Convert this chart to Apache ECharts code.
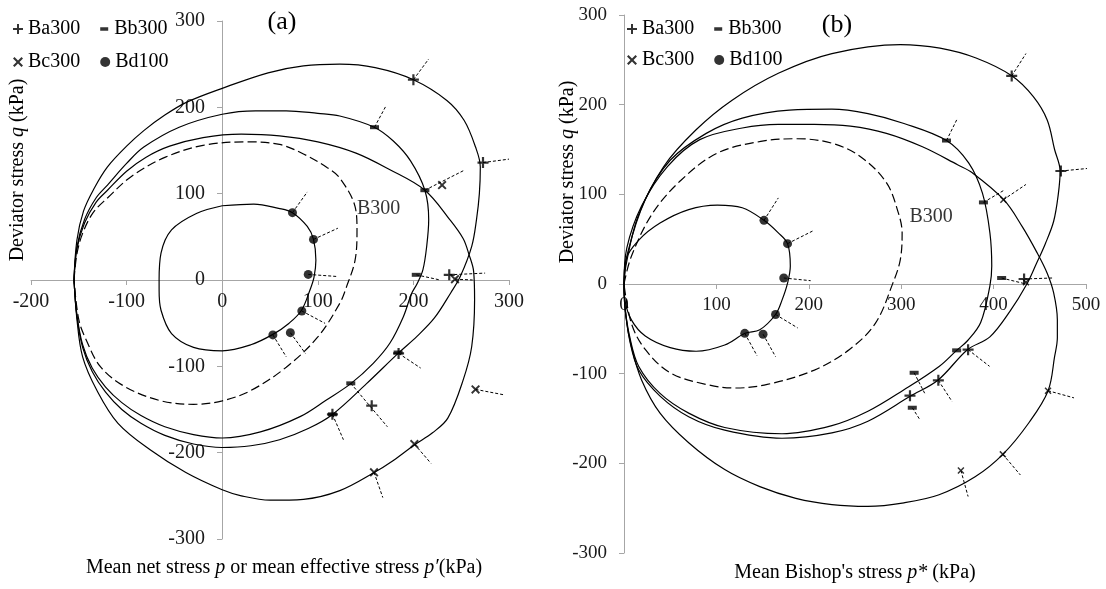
<!DOCTYPE html>
<html><head><meta charset="utf-8">
<script src="https://cdn.jsdelivr.net/npm/echarts/dist/echarts.min.js"></script>
<style>html,body{margin:0;padding:0;background:#fff}#c{width:1106px;height:589px}</style>
</head><body><div id="c"></div>
<script>
// ---------- Panel (a): p or p' ----------
const aXTicks = [-200, 300, 100];
const aYTicks = [-300, 300, 100];
const aBa300Curve = [[-155,0],[-152,46],[-145,80],[-134,106],[-120,131],[-100,155],[-82,173],[-60,191],[-37,206],[0,222],[48,240],[85,248],[123,250],[160,246],[200,232],[235,208],[253,185],[265,154],[270,131],[269,100],[266,70],[261,39],[249,4],[239,-15],[222,-44],[204,-65],[184,-85],[151,-120],[115,-156],[90,-172],[60,-185],[30,-192],[0,-194],[-30,-190],[-60,-180],[-85,-166],[-105,-150],[-122,-130],[-136,-106],[-146,-78],[-152,-42],[-155,0]];
const aBb300Curve = [[-155,0],[-152,38],[-144,70],[-132,95],[-120,110],[-100,135],[-82,154],[-45,177],[0,192],[35,196],[67,196],[100,193],[123,190],[159,177],[179,161],[197,138],[212,104],[216,70],[214,40],[210,12],[204,-4],[198,-16],[189.5,-42.5],[175.5,-73],[158,-96.5],[134.5,-120],[109,-139],[82,-158],[40,-176],[0,-183],[-30,-179],[-60,-170],[-85,-157],[-105,-142],[-122,-124],[-136,-102],[-146,-75],[-152,-40],[-155,0]];
const aBc300Curve = [[-155,0],[-152,36],[-144,66],[-132,90],[-120,104],[-100,126],[-80,142],[-55,155],[-20,165],[20,169],[60,167],[100,160],[140,147],[175,128],[212,104],[238,70],[252,48],[258,30],[263,10],[264,-23],[261,-77],[252,-116],[236,-160],[220,-177],[201,-191],[179,-209],[159,-223],[123,-244],[85,-254],[50,-255],[20,-250],[0,-243],[-38,-223],[-75,-197],[-109,-166],[-131,-128],[-146,-89],[-152,-45],[-155,0]];
const aB300Curve = [[-155,0],[-152,30],[-146,54],[-135,78],[-120,95],[-95,120],[-60,142],[-20,156],[26,160],[60,157],[85,146],[110,130],[123,118],[139,85],[141,58],[139,23],[130,-8],[123,-27],[100,-66],[67,-101],[30,-128],[0,-140],[-30,-144],[-64,-140],[-101,-124],[-127,-101],[-142,-70],[-150,-46],[-155,0]];
const aBd100Curve = [[0,86],[33,88],[59,83],[73.5,78],[89,62],[95.5,47],[98,23],[96,3],[92,-11],[83,-35],[70,-50],[53,-63],[30,-75],[0,-82],[-30,-78],[-53,-62],[-64,-35],[-66,-12],[-66,0],[-64,31],[-53,58],[-27,77],[0,86]];
const aBa300Pts = [[200,232],[272.8,136],[237.5,6],[184.5,-85],[156.4,-145.6],[115.3,-155.6]];
const aBb300Pts = [[159.3,177],[212,104],[203,6],[134.5,-119.7],[115.3,-155.6],[184,-84]];
const aBc300Pts = [[230,110],[243.5,1],[265,-126.7],[201,-190],[158.8,-222.8]];
const aBd100Pts = [[73.5,78],[95.5,47],[90,6.5],[83.3,-35.9],[71.3,-61],[53,-63.6]];
const aVectors = [[200,232,216,256],[272.8,136,300,140],[237.5,6,275,8],[184.5,-85,207.6,-102],
  [159.3,177,171,201],[212,104,253,127],[203,6,228,0],[134.5,-119.7,172.8,-170],[115.3,-155.6,126.8,-185],
  [243.5,1,262,0],[265,-126.7,294.7,-133],[201,-190,218.4,-212.4],[158.8,-222.8,168,-252],
  [73.5,78,89,102],[95.5,47,121,60],[90,6.5,121,4],[83.3,-35.9,107.6,-50.2],[71.3,-61,87,-85],[53,-63.6,67,-89]];
const aB300Label = [141,83];

// ---------- Panel (b): p* ----------
const bXTicks = [0, 500, 100];
const bYTicks = [-300, 300, 100];
const bBa300Curve = [[0,0],[2,20],[15,75],[43,131],[78,172],[117,205],[167,235],[225,257],[299,267],[342,263],[381,252],[420,232],[443,209],[458,183],[466,150],[472,126],[470,100],[465,70],[456,45],[446,22],[436,0],[418,-30],[396,-59],[372,-73],[340,-107],[310,-125],[264,-153],[225,-166],[171,-172],[109,-163],[70,-148],[39,-125],[16,-96],[6,-62],[1,-25],[0,0]];
const bBb300Curve = [[0,0],[4,35],[23,94],[50,138],[89,168],[128,185],[179,194],[225,195],[264,190],[303,179],[349,160],[373,135],[388,101],[396,57],[398,20],[396,-2],[386,-43],[372,-63],[360,-74],[341,-92],[303,-118],[264,-142],[225,-158],[171,-167],[109,-160],[70,-144],[39,-122],[16,-92],[6,-58],[1,-25],[0,0]];
const bBc300Curve = [[0,0],[3,40],[19,87],[47,131],[82,161],[128,174],[167,178],[206,178],[245,176],[284,168],[323,153],[361,133],[377,124],[411,94],[431,64],[447,35],[458,12],[465,-10],[469,-40],[469,-60],[466,-81],[459,-119],[438,-155],[410,-190],[380,-215],[341,-235],[303,-244],[264,-248],[225,-246],[186,-239],[147,-226],[109,-207],[70,-177],[39,-144],[19,-107],[8,-70],[2,-36],[0,0]];
const bB300Curve = [[0,0],[8,31],[31,79],[62,116],[101,146],[148,159],[187,162],[225,157],[256,142],[284,113],[297,79],[301,57],[299,27],[291,1],[272,-44],[244,-73],[206,-96],[155,-112],[120,-116],[89,-112],[50,-99],[23,-73],[8,-44],[0,0]];
const bBd100Curve = [[0,0],[2,27],[16,49],[39,68],[70,83],[101,88],[128,85],[151.5,71],[167,57],[177,45],[180,20],[177,1],[171,-18],[164,-34],[147,-51],[131,-55],[109,-68],[78,-75],[50,-71],[23,-58],[8,-40],[1,-18],[0,0]];
const bBa300Pts = [[419.6,232],[472.8,126],[433,5.6],[372.4,-73.2],[340.2,-107.4],[309.5,-124.5]];
const bBb300Pts = [[349,160],[389,91],[408.7,6.7],[360,-74],[314,-99],[312,-138]];
const bBc300Pts = [[410.6,94],[435,2],[458.9,-119],[410,-190],[364.6,-208]];
const bBd100Pts = [[151.5,71],[177,45],[172.9,6.7],[164,-34],[150.5,-56],[130.7,-55]];
const bVectors = [[419.6,232,435,257],[472.8,126,503,129],[433,5.6,464,6.7],[372.4,-73.2,395.6,-91.8],[340.2,-107.4,355,-131],
  [349,160,361,185],[389,91,412,105],[408.7,6.7,435,0],[314,-99,326,-123],[312,-138,320,-151],
  [410.6,94,435,111],[458.9,-119,487,-127],[410,-190,429,-213],[364.6,-208,372.4,-237],
  [151.5,71,167,96],[177,45,204,59],[172.9,6.7,202,3.7],[164,-34,188,-49],[150.5,-56,164,-81],[130.7,-55,144,-80]];
const bB300Label = [309,75];

const seriesNames = ['Ba300','Bb300','Bc300','Bd100'];

// ---------- styling ----------
const FONT = 'Liberation Serif';
const plusPath = 'path://M4,0H6V4H10V6H6V10H4V6H0V4H4Z';
const crossPath = 'path://M1.5,0L5,3.5L8.5,0L10,1.5L6.5,5L10,8.5L8.5,10L5,6.5L1.5,10L0,8.5L3.5,5L0,1.5Z';
const dashIcon = 'path://M1,0h0.01v0.01h-0.01Z M1,10h0.01v0.01h-0.01Z M1,3.2H9V6.8H1Z';
const symbolMap = {Ba300:[plusPath,11],Bb300:['rect',[9,4]],Bc300:[crossPath,9],Bd100:['circle',9]};
const iconMap = {Ba300:plusPath,Bb300:dashIcon,Bc300:crossPath,Bd100:'circle'};

function grid(l, t, w, h) { return {left:l, top:t, width:w, height:h, outerBoundsMode:'none', containLabel:false}; }
function hiddenAxis(ticks, gi) {
  return {type:'value', gridIndex:gi, min:ticks[0], max:ticks[1], interval:ticks[2], show:false};
}
function shownAxis(ticks, gi, pos, fs, margin) {
  return {type:'value', gridIndex:gi, min:ticks[0], max:ticks[1], interval:ticks[2], position:pos,
    axisLine:{show:true, onZero:false, lineStyle:{color:'#a6a6a6', width:1}},
    axisTick:{show:true, length:5, lineStyle:{color:'#a6a6a6'}},
    splitLine:{show:false},
    axisLabel:{fontFamily:FONT, fontSize:fs, color:'#1a1a1a', margin:margin}};
}
function curve(data, i, dashed) {
  return {type:'line', xAxisIndex:i, yAxisIndex:i, data:data, symbol:'none', showSymbol:false,
    smooth:0.35, silent:true, z:2, lineStyle:{color:'#000', width:1.2, type: dashed ? [9,4] : 'solid'}};
}
function pts(name, data, i, small) {
  const s = symbolMap[name];
  let size = s[1];
  if (small && name === 'Bc300') size = 7;
  return {type:'scatter', name:name, xAxisIndex:i, yAxisIndex:i, data:data, symbol:s[0], symbolSize:size,
    itemStyle:{color:'#000'}, z:5, silent:true};
}
function vecs(v, i) {
  return {type:'lines', coordinateSystem:'cartesian2d', xAxisIndex:i, yAxisIndex:i, silent:true, z:3,
    data:v.map(a => ({coords:[[a[0],a[1]],[a[2],a[3]]]})),
    lineStyle:{color:'#000', width:1, type:[3,2], opacity:1}};
}
function label(p, i) {
  return {type:'scatter', xAxisIndex:i, yAxisIndex:i, data:[p], symbolSize:0, silent:true,
    label:{show:true, position:'right', distance:0, formatter:'B300', fontFamily:FONT, fontSize:20, color:'#000'}};
}
function legendRow(left, top, names) {
  return {left:left, top:top, orient:'horizontal', itemGap:20, itemWidth:10, itemHeight:10, padding:0,
    selectedMode:false, textStyle:{fontFamily:FONT, fontSize:20, color:'#000'},
    data:names.map(n => ({name:n, icon:iconMap[n]}))};
}
function txt(x, y, text, fs, rot) {
  return {type:'text', x:x, y:y, rotation:rot||0, silent:true,
    style:{text:text, x:0, y:0, textAlign:'center', textVerticalAlign:'middle', fontFamily:FONT, fontSize:fs, fill:'#000',
      rich:{i:{fontStyle:'italic', fontFamily:FONT, fontSize:fs, fill:'#000'}}}};
}

// grid 0: panel (a) plot; grid 1: (a) x-axis on q = 0; grid 2: (a) q-axis on p = 0
// grid 3: panel (b) plot with q-axis; grid 4: (b) x-axis on q = 0
const option = {
  animation:false,
  grid:[grid(31,21,478,518), grid(31,21,478,259), grid(222,21,287,518), grid(624,15,462,538), grid(624,15,462,269)],
  xAxis:[hiddenAxis(aXTicks,0), shownAxis(aXTicks,1,'bottom',20,12), hiddenAxis([0,300,100],2),
         hiddenAxis(bXTicks,3), shownAxis(bXTicks,4,'bottom',19,12)],
  yAxis:[hiddenAxis(aYTicks,0), hiddenAxis([0,300,100],1), shownAxis(aYTicks,2,'left',20,17),
         shownAxis(bYTicks,3,'left',19,17), hiddenAxis([0,300,100],4)],
  legend:[legendRow(13, 19, ['Ba300','Bb300']), legendRow(13, 52, ['Bc300','Bd100']),
          legendRow(627, 19, ['Ba300','Bb300']), legendRow(627, 50, ['Bc300','Bd100'])],
  graphic:[
    txt(282, 22, '(a)', 26),
    txt(837, 25, '(b)', 26),
    txt(18, 170, 'Deviator stress {i|q} (kPa)', 20, Math.PI/2),
    txt(568, 172, 'Deviator stress {i|q} (kPa)', 20, Math.PI/2),
    txt(284, 568, 'Mean net stress {i|p} or mean effective stress {i|p′}(kPa)', 20),
    txt(855, 573, "Mean Bishop's stress {i|p*} (kPa)", 20)
  ],
  series:[
    curve(aBa300Curve,0), curve(aBb300Curve,0), curve(aBc300Curve,0), curve(aB300Curve,0,true), curve(aBd100Curve,0),
    curve(bBa300Curve,3), curve(bBb300Curve,3), curve(bBc300Curve,3), curve(bB300Curve,3,true), curve(bBd100Curve,3),
    vecs(aVectors,0), vecs(bVectors,3),
    pts('Ba300', aBa300Pts, 0), pts('Bb300', aBb300Pts, 0), pts('Bc300', aBc300Pts, 0), pts('Bd100', aBd100Pts, 0),
    pts('Ba300', bBa300Pts, 3), pts('Bb300', bBb300Pts, 3), pts('Bc300', bBc300Pts, 3, true), pts('Bd100', bBd100Pts, 3),
    label(aB300Label,0), label(bB300Label,3)
  ]
};
const chart = echarts.init(document.getElementById('c'), null, {renderer:'canvas'});
chart.setOption(option);
</script></body></html>
